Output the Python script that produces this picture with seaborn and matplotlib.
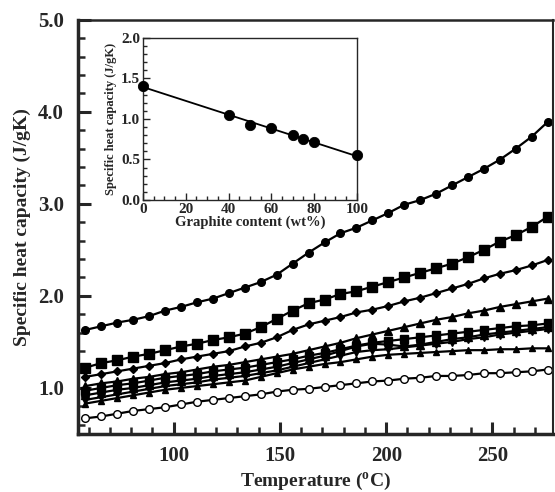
import numpy as np
import pandas as pd
import matplotlib
matplotlib.use("Agg")
import matplotlib.pyplot as plt
import seaborn as sns
from matplotlib.ticker import MultipleLocator

sns.set_style("ticks")
plt.rcParams['font.family'] = ['Liberation Serif', 'DejaVu Serif']
plt.rcParams['font.weight'] = 'bold'
plt.rcParams['mathtext.fontset'] = 'custom'
plt.rcParams['mathtext.rm'] = 'Liberation Serif:bold'
plt.rcParams['mathtext.it'] = 'Liberation Serif:bold'
plt.rcParams['mathtext.bf'] = 'Liberation Serif:bold'

# temperatures (deg C)
temperature = [58.5, 66, 73.5, 81, 88.5, 96, 103.5, 111, 118.5, 126,
               133.5, 141, 148.5, 156, 163.5, 171, 178.5, 186, 193.5, 201,
               208.5, 216, 223.5, 231, 238.5, 246, 253.5, 261, 268.5, 276]

cp_circle = [1.63, 1.67, 1.71, 1.74, 1.78, 1.84, 1.88, 1.93, 1.97, 2.03,
             2.09, 2.15, 2.23, 2.35, 2.47, 2.58, 2.68, 2.74, 2.82, 2.90,
             2.99, 3.04, 3.11, 3.20, 3.29, 3.38, 3.48, 3.60, 3.73, 3.89]
cp_square = [1.22, 1.27, 1.30, 1.34, 1.37, 1.41, 1.45, 1.48, 1.52, 1.55,
             1.59, 1.66, 1.75, 1.84, 1.92, 1.96, 2.02, 2.05, 2.10, 2.15,
             2.20, 2.25, 2.30, 2.35, 2.42, 2.50, 2.59, 2.66, 2.75, 2.86]
cp_diamond = [1.12, 1.15, 1.18, 1.21, 1.24, 1.27, 1.31, 1.34, 1.37, 1.40,
              1.45, 1.49, 1.55, 1.63, 1.69, 1.73, 1.77, 1.82, 1.85, 1.89,
              1.94, 1.98, 2.03, 2.08, 2.13, 2.19, 2.24, 2.28, 2.33, 2.39]
cp_triangle = [1.02, 1.05, 1.07, 1.10, 1.12, 1.15, 1.17, 1.20, 1.23, 1.25,
               1.28, 1.31, 1.34, 1.37, 1.41, 1.45, 1.49, 1.54, 1.58, 1.62,
               1.66, 1.70, 1.74, 1.77, 1.81, 1.84, 1.88, 1.91, 1.94, 1.97]
cp_c1 = [0.97, 1.00, 1.03, 1.05, 1.08, 1.11, 1.13, 1.15, 1.18, 1.20,
         1.22, 1.25, 1.28, 1.31, 1.35, 1.38, 1.42, 1.46, 1.49, 1.51,
         1.53, 1.55, 1.57, 1.59, 1.61, 1.63, 1.65, 1.67, 1.68, 1.70]
cp_c2 = [0.92, 0.95, 0.98, 1.00, 1.03, 1.06, 1.08, 1.10, 1.13, 1.15,
         1.17, 1.20, 1.23, 1.27, 1.31, 1.35, 1.40, 1.45, 1.48, 1.47,
         1.45, 1.47, 1.50, 1.53, 1.55, 1.58, 1.60, 1.62, 1.64, 1.66]
cp_c3 = [0.87, 0.90, 0.93, 0.96, 0.99, 1.02, 1.04, 1.06, 1.09, 1.11,
         1.13, 1.16, 1.19, 1.23, 1.27, 1.31, 1.35, 1.39, 1.41, 1.42,
         1.44, 1.46, 1.48, 1.50, 1.53, 1.55, 1.58, 1.60, 1.62, 1.64]
cp_lower = [0.83, 0.86, 0.89, 0.92, 0.95, 0.98, 1.00, 1.02, 1.04, 1.06,
            1.08, 1.12, 1.16, 1.20, 1.23, 1.26, 1.28, 1.31, 1.34, 1.36,
            1.37, 1.38, 1.39, 1.40, 1.41, 1.41, 1.42, 1.42, 1.43, 1.43]
cp_open = [0.67, 0.69, 0.72, 0.75, 0.77, 0.79, 0.82, 0.85, 0.87, 0.89,
           0.91, 0.93, 0.96, 0.98, 0.99, 1.01, 1.03, 1.05, 1.07, 1.08,
           1.10, 1.11, 1.13, 1.13, 1.14, 1.16, 1.16, 1.17, 1.18, 1.20]

# inset data
graphite_wt = [0, 40, 50, 60, 70, 75, 80, 100]
inset_cp = [1.41, 1.05, 0.93, 0.89, 0.80, 0.75, 0.72, 0.55]

series = [
    (cp_circle, 'o', 'black', 5.5),
    (cp_square, 's', 'black', 6.5),
    (cp_diamond, 'D', 'black', 4),
    (cp_triangle, '^', 'black', 5.5),
    (cp_c1, 's', 'black', 5.5),
    (cp_c2, '^', 'black', 5.5),
    (cp_c3, 'v', 'black', 5.5),
    (cp_lower, '^', 'black', 5),
    (cp_open, 'o', 'white', 5.5),
]

fig = plt.figure(figsize=(5.55, 4.92), dpi=100)
ax = fig.add_axes([0.1405, 0.118, 0.856, 0.842])

for vals, mk, fc, ms in series:
    df = pd.DataFrame({'T': temperature, 'cp': vals})
    sns.lineplot(data=df, x='T', y='cp', ax=ax, color='black', lw=1.6,
                 marker=mk, markersize=ms, markerfacecolor=fc,
                 markeredgecolor='black', markeredgewidth=1.0)

ax.set_xlim(55, 278.5)
ax.set_ylim(0.5, 5.0)
ax.xaxis.set_minor_locator(MultipleLocator(10))
ax.yaxis.set_minor_locator(MultipleLocator(0.2))
ax.set_xticks([100, 150, 200, 250])
ax.set_xticklabels(['100', '150', '200', '250'])
ax.set_yticks([1.0, 2.0, 3.0, 4.0, 5.0])
ax.set_yticklabels(['1.0', '2.0', '3.0', '4.0', '5.0'])
ax.tick_params(which='major', direction='in', length=9, width=2.2,
               labelsize=15)
ax.tick_params(axis='x', which='major', pad=9)
ax.tick_params(axis='y', which='major', pad=10)
ax.tick_params(which='minor', direction='in', length=5, width=1.8)
ax.tick_params(top=False, right=False, which='both')
for lab in ax.get_xticklabels() + ax.get_yticklabels():
    lab.set_fontweight('bold')
ax.spines['left'].set_linewidth(2.5)
ax.spines['bottom'].set_linewidth(2.5)
ax.spines['top'].set_linewidth(1.8)
ax.spines['right'].set_linewidth(1.5)
ax.set_xlabel('Temperature ($^\\mathregular{o}$C)', fontsize=14,
              fontweight='bold', labelpad=3)
ax.set_ylabel('Specific heat capacity (J/gK)', fontsize=14,
              fontweight='bold', labelpad=5)

# inset
ins = fig.add_axes([0.2577, 0.5935, 0.3853, 0.3293])
idf = pd.DataFrame({'wt': graphite_wt, 'cp': inset_cp})
coef = np.polyfit(graphite_wt, inset_cp, 1)
line_x = np.array([0, 100])
ins.plot(line_x, np.polyval(coef, line_x), color='black', lw=1.3)
sns.scatterplot(data=idf, x='wt', y='cp', ax=ins, color='black', s=55,
                edgecolor='black', zorder=3, clip_on=False)
ins.set_xlim(0, 100)
ins.set_ylim(0, 2.0)
ins.xaxis.set_minor_locator(MultipleLocator(5))
ins.yaxis.set_minor_locator(MultipleLocator(0.1))
ins.tick_params(which='major', direction='in', length=5, width=1.0,
                labelsize=11, pad=2)
ins.tick_params(which='minor', direction='in', length=3, width=1.0)
ins.tick_params(top=False, right=False, which='both')
ins.set_xticks([0, 20, 40, 60, 80, 100])
ins.set_xticklabels(['0', '20', '40', '60', '80', '100'])
ins.set_yticks([0.0, 0.5, 1.0, 1.5, 2.0])
ins.set_yticklabels(['0.0', '0.5', '1.0', '1.5', '2.0'])
for lab in ins.get_xticklabels() + ins.get_yticklabels():
    lab.set_fontweight('bold')
for sp in ins.spines.values():
    sp.set_linewidth(1.0)
ins.set_xlabel('Graphite content (wt%)', fontsize=10.5, fontweight='bold',
               labelpad=0)
ins.set_ylabel('Specific heat capacity (J/gK)', fontsize=9,
               fontweight='bold', labelpad=3)

fig.savefig('out.png', dpi=100)
